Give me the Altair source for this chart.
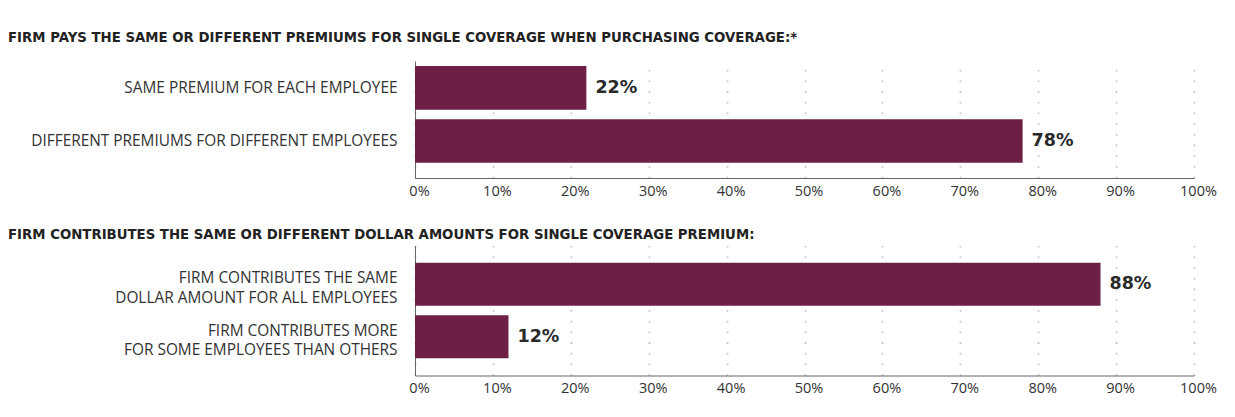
import altair as alt
import pandas as pd

# Panel 1
p1_title = "FIRM PAYS THE SAME OR DIFFERENT PREMIUMS FOR SINGLE COVERAGE WHEN PURCHASING COVERAGE:*"
p1_categories = ["SAME PREMIUM FOR EACH EMPLOYEE", "DIFFERENT PREMIUMS FOR DIFFERENT EMPLOYEES"]
p1_values = [22, 78]

# Panel 2
p2_title = "FIRM CONTRIBUTES THE SAME OR DIFFERENT DOLLAR AMOUNTS FOR SINGLE COVERAGE PREMIUM:"
p2_categories = ["FIRM CONTRIBUTES THE SAME|DOLLAR AMOUNT FOR ALL EMPLOYEES",
                 "FIRM CONTRIBUTES MORE|FOR SOME EMPLOYEES THAN OTHERS"]
p2_values = [88, 12]

x_ticks = [0, 10, 20, 30, 40, 50, 60, 70, 80, 90, 100]

BAR = "#6d1f46"
FONT = "Open Sans"
BOLD_FONT = "DejaVu Sans"
W = 779


def panel(title, cats, vals, height, po, align, title_offset, ylab_offset):
    df = pd.DataFrame({"cat": cats, "val": vals})
    df["lbl"] = df["val"].astype(str) + "%"
    y = alt.Y("cat:N", sort=cats, title=None,
              scale=alt.Scale(paddingInner=0.18, paddingOuter=po, align=align),
              axis=alt.Axis(labelExpr="split(datum.label, '|')", labelFont=FONT,
                            labelFontSize=15.4, labelColor="#333333", labelPadding=18,
                            labelLineHeight=19.5, labelOffset=ylab_offset, ticks=False,
                            domainColor="#666666", domainWidth=1, labelLimit=600))
    x = alt.X("val:Q", title=None,
              scale=alt.Scale(domain=[0, 100], nice=False),
              axis=alt.Axis(values=x_ticks, labelExpr="datum.value + '%'", labelFont=FONT,
                            labelFontSize=14.5, labelColor="#333333", labelPadding=6,
                            labelOffset=4, ticks=False, domainColor="#666666", domainWidth=1,
                            grid=True, gridColor="#c8c8c8", gridWidth=1.8,
                            gridDash=[1.8, 8.9], labelFlush=False))
    base = alt.Chart(df)
    bars = base.mark_bar(color=BAR).encode(x=x, y=y)
    text = base.mark_text(align="left", baseline="middle", dx=9, font=BOLD_FONT,
                          fontSize=17.5, fontWeight="bold", color="#2a2a2a").encode(
        x="val:Q", y=alt.Y("cat:N", sort=cats), text="lbl:N")
    return alt.layer(bars, text).properties(
        width=W, height=height,
        title=alt.TitleParams(title, anchor="start", frame="group", dx=-407,
                              font=BOLD_FONT, fontSize=13.3, fontWeight="bold",
                              color="#222222", offset=title_offset))


c1 = panel(p1_title, p1_categories, p1_values, 117, 0.19, 0.25, 17, 0)
c2 = panel(p2_title, p2_categories, p2_values, 130, 0.33, 0.5, 4.5, -6)

chart = alt.vconcat(c1, c2, spacing=29.5).properties(
    padding={"left": 0, "top": 22, "right": 0, "bottom": 8}
).configure(background="white").configure_view(stroke=None)

chart.save("out.html", embed_options={"renderer": "svg", "actions": False})
